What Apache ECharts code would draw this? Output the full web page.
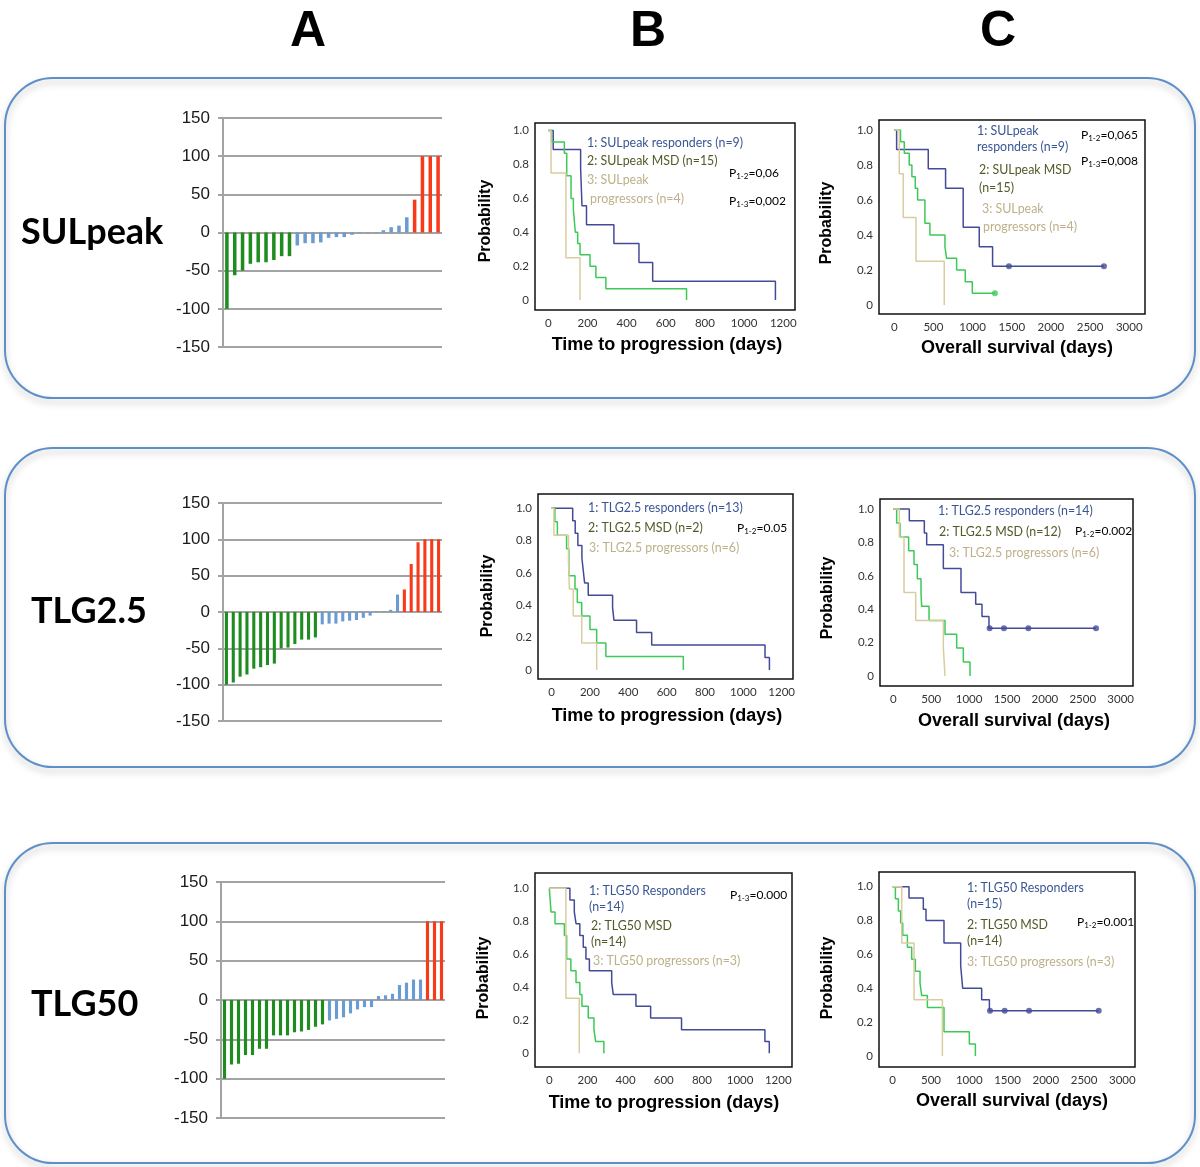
<!DOCTYPE html>
<html><head><meta charset="utf-8">
<script src="https://cdn.jsdelivr.net/npm/echarts@6/dist/echarts.min.js"></script>
<style>html,body{margin:0;padding:0;background:#fff}#c{width:1200px;height:1167px}</style>
</head><body><div id="c"></div>
<script>
// ---------- Waterfall data (A) ----------
const sulWfResp = [-100, -56, -50, -41, -39, -39, -36, -31, -31];
const sulWfMsd = [-17, -14, -14, -13, -7, -6, -6, -3, -1, -0.5, 0.5, 3, 7, 9, 20];
const sulWfProg = [43, 100, 100, 100];

const tlg25WfResp = [-100, -97, -89, -86, -78, -76, -73, -71, -50, -49, -44, -38, -38, -35];
const tlg25WfMsd = [-17, -16, -16, -13, -12, -11, -8, -5, 1, 1, 3, 24];
const tlg25WfProg = [31, 66, 96, 100, 100, 100];

const tlg50WfResp = [-100, -82, -81, -70, -70, -62, -62, -45, -45, -45, -41, -40, -38, -34, -31];
const tlg50WfMsd = [-26, -24, -22, -17, -12, -9, -9, 5, 6, 8, 19, 22, 26, 26];
const tlg50WfProg = [100, 100, 100];

const wfTicks = [-150, -100, -50, 0, 50, 100, 150];

// ---------- Kaplan-Meier data (B: time to progression, C: overall survival) ----------
// SULpeak TTP
const sulTtpRespT = [0, 25, 165, 172, 195, 335, 463, 533, 1160];
const sulTtpRespS = [1, 0.889, 0.778, 0.556, 0.444, 0.333, 0.222, 0.111, 0];
const sulTtpMsdT = [0, 17, 82, 94, 116, 128, 138, 150, 162, 213, 243, 294, 706];
const sulTtpMsdS = [1, 0.933, 0.867, 0.733, 0.6, 0.533, 0.4, 0.333, 0.267, 0.2, 0.133, 0.067, 0];
const sulTtpProgT = [0, 14, 90, 162];
const sulTtpProgS = [1, 0.75, 0.25, 0];
// SULpeak OS
const sulOsRespT = [0, 30, 434, 655, 880, 1085, 1255, 2677];
const sulOsRespS = [1, 0.889, 0.778, 0.667, 0.444, 0.333, 0.222, 0.222];
const sulOsRespCensT = [1464, 2677];
const sulOsRespCensS = [0.222, 0.222];
const sulOsMsdT = [0, 80, 128, 191, 225, 268, 298, 391, 455, 647, 668, 796, 906, 996, 1285];
const sulOsMsdS = [1, 0.933, 0.867, 0.8, 0.733, 0.667, 0.6, 0.467, 0.4, 0.333, 0.267, 0.2, 0.133, 0.067, 0.067];
const sulOsMsdCensT = [1285];
const sulOsMsdCensS = [0.067];
const sulOsProgT = [0, 64, 115, 277, 638];
const sulOsProgS = [1, 0.75, 0.5, 0.25, 0];
// TLG2.5 TTP
const t25TtpRespT = [0, 110, 123, 137, 158, 165, 172, 191, 318, 325, 443, 522, 1113, 1136];
const t25TtpRespS = [1, 0.923, 0.846, 0.769, 0.692, 0.615, 0.538, 0.462, 0.385, 0.308, 0.231, 0.154, 0.077, 0];
const t25TtpMsdT = [0, 17, 30, 78, 90, 122, 134, 157, 200, 235, 283, 687];
const t25TtpMsdS = [1, 0.917, 0.833, 0.75, 0.583, 0.5, 0.417, 0.333, 0.25, 0.167, 0.083, 0];
const t25TtpProgT = [0, 12, 88, 93, 113, 157, 235];
const t25TtpProgS = [1, 0.833, 0.667, 0.5, 0.333, 0.167, 0];
// TLG2.5 OS
const t25OsRespT = [0, 211, 409, 440, 660, 893, 1087, 1170, 1262, 2675];
const t25OsRespS = [1, 0.929, 0.857, 0.786, 0.643, 0.5, 0.429, 0.357, 0.286, 0.286];
const t25OsRespCensT = [1271, 1460, 1782, 2675];
const t25OsRespCensS = [0.286, 0.286, 0.286, 0.286];
const t25OsMsdT = [0, 44, 88, 202, 273, 317, 365, 374, 471, 682, 836, 924, 1012];
const t25OsMsdS = [1, 0.917, 0.833, 0.75, 0.667, 0.583, 0.5, 0.417, 0.333, 0.25, 0.167, 0.083, 0];
const t25OsProgT = [0, 79, 141, 295, 660, 682];
const t25OsProgS = [1, 0.833, 0.5, 0.333, 0.167, 0];
// TLG50 TTP
const t50TtpRespT = [0, 108, 131, 140, 160, 178, 192, 210, 327, 335, 454, 531, 693, 1130, 1153];
const t50TtpRespS = [1, 0.929, 0.857, 0.786, 0.714, 0.643, 0.571, 0.5, 0.429, 0.357, 0.286, 0.214, 0.143, 0.071, 0];
const t50TtpMsdT = [0, 9, 30, 79, 91, 113, 140, 160, 171, 204, 234, 243, 286];
const t50TtpMsdS = [1, 0.857, 0.786, 0.714, 0.571, 0.5, 0.429, 0.357, 0.286, 0.214, 0.143, 0.071, 0];
const t50TtpProgT = [0, 87, 157];
const t50TtpProgS = [1, 0.333, 0];
// TLG50 OS
const t50OsRespT = [0, 213, 400, 435, 670, 888, 914, 1162, 1263, 2691];
const t50OsRespS = [1, 0.933, 0.867, 0.8, 0.667, 0.533, 0.4, 0.333, 0.267, 0.267];
const t50OsRespCensT = [1271, 1463, 1781, 2691];
const t50OsRespCensS = [0.267, 0.267, 0.267, 0.267];
const t50OsMsdT = [0, 35, 74, 104, 131, 192, 248, 296, 357, 379, 453, 670, 1001, 1080];
const t50OsMsdS = [1, 0.929, 0.857, 0.786, 0.714, 0.643, 0.571, 0.5, 0.429, 0.357, 0.286, 0.143, 0.071, 0];
const t50OsProgT = [0, 118, 279, 649];
const t50OsProgS = [1, 0.667, 0.333, 0];

const ttpTicks = [0, 200, 400, 600, 800, 1000, 1200];
const osTicks = [0, 500, 1000, 1500, 2000, 2500, 3000];
const probTicks = [0, 0.2, 0.4, 0.6, 0.8, 1.0];

// ---------- Styles / layout ----------
const GREEN = '#1e8c1e', BLUE = '#6a9bd2', RED = '#f73a1a', GRID = '#a3a3a3';
const KM_BLUE = '#434a98', KM_GREEN = '#3cc957', KM_TAN = '#d9cc9f';
const L1 = '#3a5694', L2 = '#535a28', L3 = '#bdb08a';
const SANS = '"Liberation Sans", Arial, sans-serif';
const CAL = 'Lato, "Open Sans", sans-serif';

const wfLayout = [
  {left: 223, top: 118, width: 219, height: 229},
  {left: 223, top: 503, width: 219, height: 218},
  {left: 221, top: 882, width: 224, height: 236}
];
const kmLayout = [
  {g: [535, 123, 260, 187], x: [-68, 1260], y: [-0.059, 1.045], ticks: ttpTicks},
  {g: [879, 120, 266, 194], x: [-195, 3201], y: [-0.051, 1.057], ticks: osTicks},
  {g: [538, 494, 255, 185], x: [-71, 1259], y: [-0.056, 1.088], ticks: ttpTicks},
  {g: [880, 499, 253, 187], x: [-176, 3163], y: [-0.06, 1.06], ticks: osTicks},
  {g: [535, 873, 257, 194], x: [-75, 1272], y: [-0.083, 1.093], ticks: ttpTicks},
  {g: [879, 872, 256, 195], x: [-179, 3165], y: [-0.065, 1.087], ticks: osTicks}
];

const grids = [], xAxes = [], yAxes = [], series = [];

const wfRows = [
  [sulWfResp, sulWfMsd, sulWfProg],
  [tlg25WfResp, tlg25WfMsd, tlg25WfProg],
  [tlg50WfResp, tlg50WfMsd, tlg50WfProg]
];
wfRows.forEach((row, i) => {
  const [resp, msd, prog] = row;
  const n = resp.length + msd.length + prog.length;
  const cats = Array.from({length: n}, (_, k) => String(k + 1));
  grids.push(wfLayout[i]);
  xAxes.push({type: 'category', gridIndex: i, data: cats, axisLine: {show: false}, axisTick: {show: false}, axisLabel: {show: false}, splitLine: {show: false}});
  yAxes.push({type: 'value', gridIndex: i, min: -150, max: 150, interval: 50,
    axisLine: {show: true, lineStyle: {color: GRID, width: 2}},
    axisTick: {show: true, length: 5, lineStyle: {color: GRID, width: 2}},
    axisLabel: {fontSize: 17, color: '#1a1a1a', fontFamily: SANS, margin: 13, customValues: wfTicks},
    splitLine: {show: true, lineStyle: {color: GRID, width: 2}}});
  const groups = [[resp, 0, GREEN], [msd, resp.length, BLUE], [prog, resp.length + msd.length, RED]];
  groups.forEach(([arr, off, col]) => {
    series.push({type: 'bar', xAxisIndex: i, yAxisIndex: i, barWidth: '45%', barGap: '-100%',
      data: cats.map((c, k) => (k >= off && k < off + arr.length) ? arr[k - off] : '-'),
      itemStyle: {color: col}, silent: true});
  });
});

kmLayout.forEach((p, j) => {
  const gi = 3 + j;
  grids.push({left: p.g[0], top: p.g[1], width: p.g[2], height: p.g[3], show: true, borderColor: '#111', borderWidth: 1.5, backgroundColor: 'transparent'});
  xAxes.push({type: 'value', gridIndex: gi, min: p.x[0], max: p.x[1],
    axisLine: {show: false}, axisTick: {show: false}, splitLine: {show: false},
    axisLabel: {customValues: p.ticks, fontSize: 11.5, color: '#333', fontFamily: CAL, margin: 7,
      formatter: v => String(v)}});
  yAxes.push({type: 'value', gridIndex: gi, min: p.y[0], max: p.y[1],
    axisLine: {show: false}, axisTick: {show: false}, splitLine: {show: false},
    axisLabel: {customValues: probTicks, fontSize: 11.5, color: '#333', fontFamily: CAL, margin: 6,
      formatter: v => v === 0 ? '0' : v.toFixed(1)}});
});

function km(gi, T, S, color) {
  series.push({type: 'line', xAxisIndex: gi, yAxisIndex: gi, step: 'end', showSymbol: false, silent: true,
    data: T.map((t, k) => [t, S[k]]), lineStyle: {color: color, width: 1.5}});
}
function cens(gi, T, S, color) {
  series.push({type: 'scatter', xAxisIndex: gi, yAxisIndex: gi, symbolSize: 6, silent: true,
    data: T.map((t, k) => [t, S[k]]), itemStyle: {color: color}});
}
km(3, sulTtpRespT, sulTtpRespS, KM_BLUE); km(3, sulTtpMsdT, sulTtpMsdS, KM_GREEN); km(3, sulTtpProgT, sulTtpProgS, KM_TAN);
km(4, sulOsRespT, sulOsRespS, KM_BLUE); km(4, sulOsMsdT, sulOsMsdS, KM_GREEN); km(4, sulOsProgT, sulOsProgS, KM_TAN);
cens(4, sulOsRespCensT, sulOsRespCensS, KM_BLUE); cens(4, sulOsMsdCensT, sulOsMsdCensS, KM_GREEN);
km(5, t25TtpRespT, t25TtpRespS, KM_BLUE); km(5, t25TtpMsdT, t25TtpMsdS, KM_GREEN); km(5, t25TtpProgT, t25TtpProgS, KM_TAN);
km(6, t25OsRespT, t25OsRespS, KM_BLUE); km(6, t25OsMsdT, t25OsMsdS, KM_GREEN); km(6, t25OsProgT, t25OsProgS, KM_TAN);
cens(6, t25OsRespCensT, t25OsRespCensS, KM_BLUE);
km(7, t50TtpRespT, t50TtpRespS, KM_BLUE); km(7, t50TtpMsdT, t50TtpMsdS, KM_GREEN); km(7, t50TtpProgT, t50TtpProgS, KM_TAN);
km(8, t50OsRespT, t50OsRespS, KM_BLUE); km(8, t50OsMsdT, t50OsMsdS, KM_GREEN); km(8, t50OsProgT, t50OsProgS, KM_TAN);
cens(8, t50OsRespCensT, t50OsRespCensS, KM_BLUE);

// ---------- graphic texts and boxes ----------
const G = [];
function box(y, h) {
  G.push({type: 'rect', silent: true, z: -1, shape: {x: 5, y: y, width: 1190, height: h, r: 48},
    style: {fill: 'none', stroke: '#5f8fc9', lineWidth: 2, shadowBlur: 7, shadowOffsetY: 4, shadowColor: 'rgba(0,0,0,0.28)'}});
}
box(78, 320); box(448, 319); box(843, 320);
function txt(x, y, text, font, fill, extra) {
  G.push(Object.assign({type: 'text', x: x, y: y, silent: true,
    style: {text: text, font: font, fill: fill || '#000', align: 'left', verticalAlign: 'middle'}}, extra || {}));
}
function ctxt(x, y, text, font, rot) {
  G.push({type: 'text', x: x, y: y, rotation: rot || 0, silent: true,
    style: {text: text, font: font, fill: '#000', align: 'center', verticalAlign: 'middle'}});
}
function pval(x, y, sub, rest) {
  G.push({type: 'text', x: x, y: y, silent: true,
    style: {text: '{a|P}{b|' + sub + '}{a|' + rest + '}', align: 'left', verticalAlign: 'middle',
      rich: {a: {font: '12px ' + CAL, fill: '#000', lineHeight: 14},
             b: {font: '8px ' + CAL, fill: '#000', lineHeight: 14, verticalAlign: 'bottom'}}}});
}
// column headers
ctxt(308, 32, 'A', 'bold 50px ' + SANS);
ctxt(648, 32, 'B', 'bold 50px ' + SANS);
ctxt(998, 32, 'C', 'bold 50px ' + SANS);
// row labels
txt(21, 232, 'SULpeak', 'bold 36px ' + CAL);
txt(31, 611, 'TLG2.5', 'bold 36px ' + CAL);
txt(31, 1004, 'TLG50', 'bold 36px ' + CAL);
// axis titles
const XT = 'bold 18px ' + SANS, YT = 'bold 16px ' + SANS;
ctxt(667, 345, 'Time to progression (days)', XT); ctxt(486, 221, 'Probability', YT, Math.PI / 2);
ctxt(1017, 348, 'Overall survival (days)', XT); ctxt(827, 223, 'Probability', YT, Math.PI / 2);
ctxt(667, 716, 'Time to progression (days)', XT); ctxt(488, 596, 'Probability', YT, Math.PI / 2);
ctxt(1014, 721, 'Overall survival (days)', XT); ctxt(828, 598, 'Probability', YT, Math.PI / 2);
ctxt(664, 1103, 'Time to progression (days)', XT); ctxt(484, 978, 'Probability', YT, Math.PI / 2);
ctxt(1012, 1101, 'Overall survival (days)', XT); ctxt(828, 978, 'Probability', YT, Math.PI / 2);
// legends
const LF = '12.4px ' + CAL;
txt(587, 143, '1: SULpeak responders (n=9)', LF, L1);
txt(587, 161, '2: SULpeak MSD (n=15)', LF, L2);
txt(587, 180, '3: SULpeak', LF, L3);
txt(590, 199, 'progressors (n=4)', LF, L3);
pval(729, 173, '1-2', '=0,06'); pval(729, 201, '1-3', '=0,002');

txt(977, 131, '1: SULpeak', LF, L1);
txt(977, 147, 'responders (n=9)', LF, L1);
txt(979, 170, '2: SULpeak MSD', LF, L2);
txt(979, 188, '(n=15)', LF, L2);
txt(982, 209, '3: SULpeak', LF, L3);
txt(983, 227, 'progressors (n=4)', LF, L3);
pval(1081, 135, '1-2', '=0,065'); pval(1081, 161, '1-3', '=0,008');

txt(588, 508, '1: TLG2.5 responders (n=13)', LF, L1);
txt(588, 528, '2: TLG2.5 MSD (n=2)', LF, L2);
txt(589, 548, '3: TLG2.5 progressors (n=6)', LF, L3);
pval(737, 528, '1-2', '=0.05');

txt(938, 511, '1: TLG2.5 responders (n=14)', LF, L1);
txt(939, 532, '2: TLG2.5 MSD (n=12)', LF, L2);
txt(949, 553, '3: TLG2.5 progressors (n=6)', LF, L3);
pval(1075, 531, '1-2', '=0.002');

txt(589, 891, '1: TLG50 Responders', LF, L1);
txt(589, 907, '(n=14)', LF, L1);
txt(591, 926, '2: TLG50 MSD', LF, L2);
txt(591, 942, '(n=14)', LF, L2);
txt(593, 961, '3: TLG50 progressors (n=3)', LF, L3);
pval(730, 895, '1-3', '=0.000');

txt(967, 888, '1: TLG50 Responders', LF, L1);
txt(967, 904, '(n=15)', LF, L1);
txt(967, 925, '2: TLG50 MSD', LF, L2);
txt(967, 941, '(n=14)', LF, L2);
txt(967, 962, '3: TLG50 progressors (n=3)', LF, L3);
pval(1077, 922, '1-2', '=0.001');

const chart = echarts.init(document.getElementById('c'), null, {renderer: 'canvas'});
chart.setOption({
  animation: false,
  backgroundColor: '#fff',
  grid: grids, xAxis: xAxes, yAxis: yAxes, series: series, graphic: G
});
</script></body></html>
